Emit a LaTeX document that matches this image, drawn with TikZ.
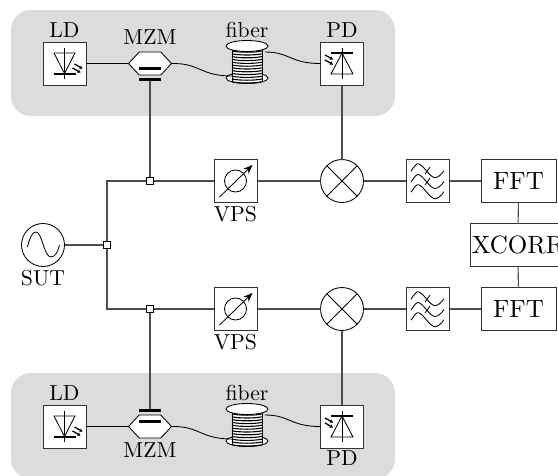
\documentclass[tikz,border=0pt]{standalone}
\usepackage{graphicx}
\usetikzlibrary{arrows.meta,shapes.geometric}
\definecolor{panelgrey}{HTML}{DCDCDC}
\tikzset{
  wire/.style={line width=1.05pt,draw=black!70},
  thinwire/.style={line width=0.85pt,draw=black},
  icon/.style={line width=0.85pt,draw=black},
  panel/.style={fill=panelgrey,draw=none,rounded corners=20pt},
  boxed/.style={draw=black!80,line width=1pt,fill=white,minimum size=43pt,inner sep=0pt,outer sep=0pt},
  round/.style={circle,draw=black,line width=0.85pt,fill=white,minimum size=43pt,inner sep=0pt,outer sep=0pt},
  jn/.style={draw=black,line width=1.3pt,fill=white,minimum size=7.5pt,inner sep=0pt,outer sep=0pt},
  modbody/.style={draw=black,line width=0.85pt,fill=white,regular polygon,inner sep=0pt},
  barnode/.style={fill=black,draw=none,minimum width=22pt,minimum height=3pt,inner sep=0pt,outer sep=0pt},
  lab/.style={inner sep=0pt},
  light/.style={line width=1.3pt,-{Stealth[length=3pt,width=3.5pt]}},
}
\newcommand{\lbl}[1]{\scalebox{2.17}{#1}}
\newcommand{\blbl}[1]{\scalebox{2.5}{#1}}
\newcommand{\ldicon}[2]{\begin{scope}[shift={(#1,#2)}]
  \draw[icon] (-10.5,-10.5) -- (10.5,-10.5) -- (0,10) -- cycle;
  \draw[icon] (0,-16) -- (0,15.5);
  \draw[line width=1.5pt] (-11,10.5) -- (11,10.5);
  \draw[light] (10,0.5) -- (18,5);
  \draw[light] (8,4.5) -- (16,9);
\end{scope}}
\newcommand{\pdicon}[2]{\begin{scope}[shift={(#1,#2)}]
  \draw[icon] (-11,10.5) -- (11,10.5) -- (0,-10.5) -- cycle;
  \draw[icon] (0,-16) -- (0,15.5);
  \draw[line width=1.5pt] (-11,-10.5) -- (11,-10.5);
  \draw[light] (-17,-8.5) -- (-9,-4);
  \draw[light] (-17,-3.5) -- (-9,1);
\end{scope}}
\newcommand{\vpsicon}[2]{\begin{scope}[shift={(#1,#2)}]
  \draw[icon] (0,0) circle (11);
  \draw[icon,-{Stealth[length=9pt,width=7pt]}] (-16,16) -- (17,-16);
\end{scope}}
\newcommand{\mixicon}[2]{\begin{scope}[shift={(#1,#2)}]
  \draw[icon] (-15.2,-15.2) -- (15.2,15.2) (-15.2,15.2) -- (15.2,-15.2);
\end{scope}}
\newcommand{\waveicon}[1]{\draw[icon] (-16.5,#1+0.5) .. controls (-13,#1-4.5) and (-11.5,#1-7) .. (-9.5,#1-7) .. controls (-5,#1-7) and (2.5,#1+7) .. (7.5,#1+7) .. controls (10,#1+7) and (14,#1+4) .. (16.5,#1);}
\newcommand{\filtericon}[2]{\begin{scope}[shift={(#1,#2)}]
  \waveicon{-10.3}\waveicon{0.5}\waveicon{10.7}
  \draw[icon] (-2.5,-6.8) -- (2.5,-13.8) (-2.5,4) -- (2.5,-3);
\end{scope}}
\newcommand{\coil}[3]{\begin{scope}[shift={(#1,#2)}]
  \draw[icon,fill=white] (0,32) ellipse (21 and 5.5);
  \fill[white] (-15,0) rectangle (15,35);
  \draw[icon] (-15,0) -- (-15,36) (15,0) -- (15,36);
  \foreach \k in {5,7.8,...,36}{\draw[line width=1.1pt] (-15,\k) .. controls (-7,\k+1.6) and (7,\k+1.6) .. (15,\k);}
  \draw[icon,fill=white] (0,0) ellipse (21 and 5.5);
  \coordinate (#3in) at (-15,30);
  \coordinate (#3out) at (18,6);
\end{scope}}
\begin{document}
\begin{tikzpicture}[x=1pt,y=-1pt]
\useasboundingbox (0,0) rectangle (558,475);
\fill[panel] (11,10) rectangle (395,116);
\fill[panel] (11,373) rectangle (395,479);
% top chain
\node[boxed] (ldT) at (64.5,63.5) {};
\node[boxed] (pdT) at (342,63.5) {};
\node[lab] (ldTl) at (64.5,30.5) {\lbl{LD}};
\node[lab] (mzTl) at (150,37) {\lbl{MZM}};
\node[lab] (fiTl) at (247,30) {\lbl{fiber}};
\node[lab] (pdTl) at (342,30.5) {\lbl{PD}};
\ldicon{64.5}{63.5}
\pdicon{342}{63.5}
\node[modbody,regular polygon sides=6,minimum size=43pt,yscale=0.62] (mzT) at (150,63.5) {};
\node[barnode] (mzTi) at (150,68) {};
\node[barnode] (mzTo) at (150,79) {};
\coil{247}{46}{fT}
% bottom chain
\node[boxed] (ldB) at (64.5,426.5) {};
\node[boxed] (pdB) at (342,426.5) {};
\node[lab] (ldBl) at (64.5,393) {\lbl{LD}};
\node[lab] (mzBl) at (150,450) {\lbl{MZM}};
\node[lab] (fiBl) at (247,393) {\lbl{fiber}};
\node[lab] (pdBl) at (342,458) {\lbl{PD}};
\ldicon{64.5}{426.5}
\pdicon{342}{426.5}
\node[modbody,regular polygon sides=6,minimum size=43pt,yscale=0.62] (mzB) at (150,426.5) {};
\node[barnode] (mzBi) at (150,421) {};
\node[barnode] (mzBo) at (150,410) {};
\coil{247}{409}{fB}
% electrical
\node[round] (sut) at (43,245) {};
\draw[icon] (27.5,247) .. controls (30,236) and (33,232) .. (36,232) .. controls (42,232) and (44,257) .. (51,257) .. controls (55,257) and (58,252) .. (59.5,245);
\node[lab] (sutl) at (43,278) {\lbl{SUT}};
\node[jn] (j0) at (107,245) {};
\node[jn] (j1) at (150,181) {};
\node[jn] (j2) at (150,309) {};
\node[boxed] (vpsT) at (235.5,181) {};
\node[boxed] (vpsB) at (235.5,309) {};
\vpsicon{235.5}{181}
\vpsicon{235.5}{309}
\node[lab] (vpsTl) at (235.5,214) {\lbl{VPS}};
\node[lab] (vpsBl) at (235.5,342) {\lbl{VPS}};
\node[round] (mixT) at (342,181) {};
\node[round] (mixB) at (342,309) {};
\mixicon{342}{181}
\mixicon{342}{309}
\node[boxed] (fltT) at (427.5,181) {};
\node[boxed] (fltB) at (427.5,309) {};
\filtericon{427.5}{181}
\filtericon{427.5}{309}
\node[boxed,minimum width=75pt] (fftT) at (518.5,181) {\blbl{FFT}};
\node[boxed,minimum width=75pt] (fftB) at (518.5,309) {\blbl{FFT}};
\node[boxed,minimum width=96pt] (xc) at (518,245) {\blbl{XCORR}};
% connectors
\draw[thinwire] (ldT) -- (mzT);
\draw[thinwire] (ldB) -- (mzB);
\draw[thinwire] (mzT.east) .. controls (200,63) and (200,76) .. (fTin);
\draw[thinwire] (mzB.east) .. controls (200,426) and (200,439) .. (fBin);
\draw[thinwire] (fTout) .. controls (290,52) and (290,63.5) .. (pdT.west);
\draw[thinwire] (fBout) .. controls (290,415) and (290,426.5) .. (pdB.west);
\draw[wire] (mzTo) -- (j1);
\draw[wire] (j2) -- (mzBo);
\draw[wire] (pdT) -- (mixT);
\draw[wire] (mixB) -- (pdB);
\draw[wire] (sut) -- (j0);
\draw[wire] (j0) |- (j1);
\draw[wire] (j0) |- (j2);
\draw[wire] (j1) -- (vpsT);
\draw[wire] (j2) -- (vpsB);
\draw[wire] (vpsT) -- (mixT);
\draw[wire] (vpsB) -- (mixB);
\draw[wire] (mixT) -- (fltT);
\draw[wire] (mixB) -- (fltB);
\draw[wire] (fltT) -- (fftT);
\draw[wire] (fltB) -- (fftB);
\draw[wire] (fftT) -- (xc);
\draw[wire] (xc) -- (fftB);
\end{tikzpicture}
\end{document}
